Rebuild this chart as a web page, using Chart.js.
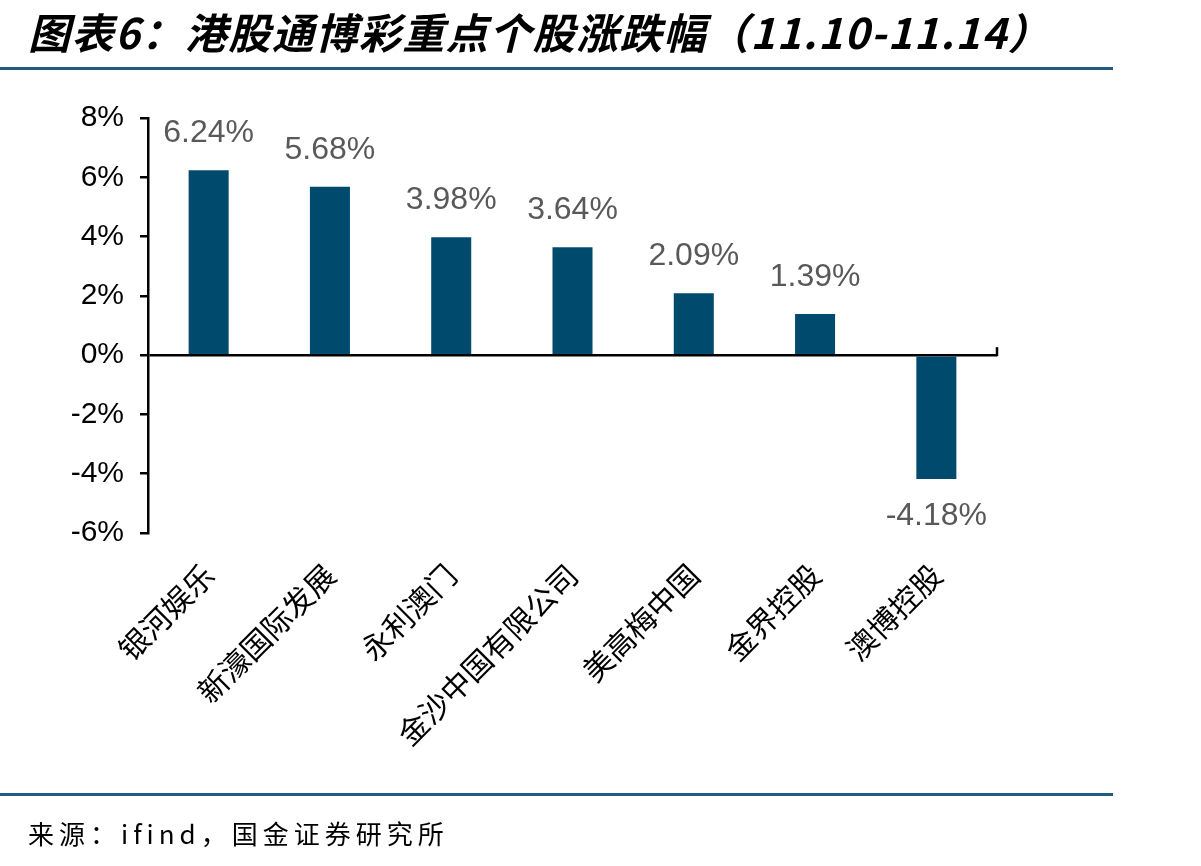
<!DOCTYPE html>
<html>
<head>
<meta charset="utf-8">
<script src="https://cdn.jsdelivr.net/npm/chart.js@4"></script>
<style>
    body { margin: 0; background: #fff; }
    #wrap { position: relative; width: 1201px; height: 866px; overflow: hidden; }
    #chart { position: absolute; left: 0; top: 0; }
    .title {
        position: absolute; left: 28px; top: 0px;
        font: italic bold 42px "Noto Sans CJK SC", sans-serif; color: #000;
        letter-spacing: 1.5px; white-space: nowrap;
    }
    .rule { position: absolute; left: 0; width: 1113px; height: 3px; background: #1f5c80; }
    .source {
        position: absolute; left: 28px; top: 814px;
        font: 26px "Noto Sans CJK SC", sans-serif; color: #000; letter-spacing: 5px;
        white-space: nowrap;
    }
</style>
</head>
<body>
<div id="wrap">
    <canvas id="chart" width="1201" height="866"></canvas>
    <div class="title">图表6：港股通博彩重点个股涨跌幅（11.10-11.14）</div>
    <div class="rule" style="top:67px"></div>
    <div class="rule" style="top:793px"></div>
    <div class="source">来源：ifind，国金证券研究所</div>
</div>
<script>
const categories = ['银河娱乐', '新濠国际发展', '永利澳门', '金沙中国有限公司', '美高梅中国', '金界控股', '澳博控股'];
const changes = [6.24, 5.68, 3.98, 3.64, 2.09, 1.39, -4.18];
const yMin = -6, yMax = 8, yStep = 2;

// value labels above / below each bar
const barLabels = {
    id: 'barLabels',
    afterDatasetsDraw(chart) {
        const ctx = chart.ctx;
        const meta = chart.getDatasetMeta(0);
        ctx.save();
        ctx.font = '32px "Liberation Sans", Arial, sans-serif';
        ctx.fillStyle = '#595959';
        ctx.textAlign = 'center';
        ctx.textBaseline = 'middle';
        meta.data.forEach((bar, i) => {
            const v = changes[i];
            const y = v >= 0 ? bar.y - 37 : bar.y + 37;
            ctx.fillText(v.toFixed(2) + '%', bar.x, y);
        });
        ctx.restore();
    }
};

// small end tick on the right of the zero line
const endTick = {
    id: 'endTick',
    afterDraw(chart) {
        const ctx = chart.ctx;
        const y0 = chart.scales.y.getPixelForValue(0);
        const x = chart.chartArea.right;
        ctx.save();
        ctx.strokeStyle = '#000';
        ctx.lineWidth = 2.5;
        ctx.beginPath();
        ctx.moveTo(x, y0 + 1);
        ctx.lineTo(x, y0 - 8);
        ctx.stroke();
        ctx.restore();
    }
};

new Chart(document.getElementById('chart'), {
    type: 'bar',
    data: {
        labels: categories,
        datasets: [{
            data: changes,
            backgroundColor: '#004a6e',
            categoryPercentage: 1,
            barPercentage: 0.33
        }]
    },
    options: {
        responsive: false,
        animation: false,
        layout: { padding: { top: 118, left: 0, right: 204, bottom: 0 } },
        plugins: { legend: { display: false }, tooltip: { enabled: false } },
        scales: {
            x: {
                grid: { display: false },
                border: { display: false },
                ticks: {
                    autoSkip: false,
                    minRotation: 45,
                    maxRotation: 45,
                    padding: 16,
                    color: '#000',
                    font: { family: '"Noto Sans CJK SC", sans-serif', size: 30 }
                },
                afterFit(scale) { scale.height = 333; }
            },
            y: {
                min: yMin,
                max: yMax,
                ticks: {
                    stepSize: yStep,
                    padding: 16,
                    color: '#000',
                    font: { family: '"Liberation Sans", Arial, sans-serif', size: 30 },
                    callback: v => v + '%'
                },
                grid: {
                    color: c => (c.tick && c.tick.value === 0 ? '#000' : 'rgba(0,0,0,0)'),
                    lineWidth: 2.5,
                    tickColor: '#000',
                    tickLength: 8,
                    tickWidth: 2.5
                },
                border: { color: '#000', width: 2.5 },
                afterFit(scale) { scale.width = 148; }
            }
        }
    },
    plugins: [barLabels, endTick]
});
</script>
</body>
</html>
